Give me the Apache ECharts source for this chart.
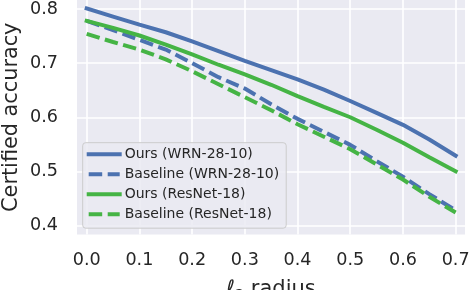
<!DOCTYPE html>
<html>
<head>
<meta charset="utf-8">
<script src="https://cdn.jsdelivr.net/npm/echarts@6/dist/echarts.min.js"></script>
<style>html,body{margin:0;padding:0;background:#fff;}#c{width:470px;height:290px;}</style>
</head>
<body>
<div id="c"></div>
<script>
// radius values (x)
const radius = [0.0, 0.05, 0.1, 0.15, 0.2, 0.25, 0.3, 0.35, 0.4, 0.45, 0.5, 0.55, 0.6, 0.65, 0.7];
// certified accuracy for each series
const oursWRN      = [0.801, 0.786, 0.771, 0.757, 0.740, 0.722, 0.704, 0.687, 0.670, 0.651, 0.630, 0.608, 0.586, 0.559, 0.529];
const baselineWRN  = [0.778, 0.761, 0.743, 0.725, 0.700, 0.674, 0.653, 0.624, 0.597, 0.573, 0.549, 0.519, 0.490, 0.458, 0.428];
const oursRes      = [0.778, 0.765, 0.751, 0.734, 0.716, 0.697, 0.679, 0.660, 0.639, 0.619, 0.600, 0.577, 0.553, 0.526, 0.500];
const baselineRes  = [0.754, 0.739, 0.725, 0.707, 0.685, 0.661, 0.637, 0.613, 0.587, 0.564, 0.541, 0.513, 0.485, 0.453, 0.424];
const seriesNames = ['Ours (WRN-28-10)', 'Baseline (WRN-28-10)', 'Ours (ResNet-18)', 'Baseline (ResNet-18)'];
const xTicks = [0.0, 0.1, 0.2, 0.3, 0.4, 0.5, 0.6, 0.7];
const yTicks = [0.4, 0.5, 0.6, 0.7, 0.8];

const BLUE = '#4C72B0', GREEN = '#45b445';
const DASH = [13.5, 5.5];
function pairs(ys){ return radius.map((r,i)=>[r, ys[i]]); }
function mk(name, ys, color, dashed){
  return {
    name: name, type: 'line', data: pairs(ys), symbol: 'none', showSymbol: false,
    lineStyle: {color: color, width: 4, type: dashed ? DASH : 'solid', cap: dashed ? 'butt' : 'square'},
    itemStyle: {color: color}, animation: false
  };
}
const chart = echarts.init(document.getElementById('c'), null, {renderer: 'canvas'});
const textColor = '#262626';
chart.setOption({
  animation: false,
  backgroundColor: '#ffffff',
  grid: {left: 77, right: 5, top: 0, bottom: 55.5, outerBoundsMode: 'none', containLabel: false,
    show: true, backgroundColor: '#EAEAF2', borderWidth: 0},
  xAxis: {
    type: 'value', min: -0.0184, max: 0.7177,
    axisLine: {show: false}, axisTick: {show: false, customValues: xTicks},
    axisLabel: {customValues: xTicks, formatter: v => v.toFixed(1), color: textColor, fontSize: 17.6,
      fontFamily: 'DejaVu Sans', margin: 17},
    splitLine: {show: true, customValues: xTicks, lineStyle: {color: '#ffffff', width: 1.6}},
    name: '{l|ℓ}{s|2} radius', nameLocation: 'middle', nameGap: 43, nameMoveOverlap: false,
    nameTextStyle: {color: textColor, fontSize: 21, fontFamily: 'DejaVu Sans',
      rich: {l: {fontSize: 21, fontStyle: 'italic', fontFamily: 'DejaVu Sans', color: textColor},
             s: {fontSize: 14.5, fontFamily: 'DejaVu Sans', color: textColor, padding: [10, 0, 0, 0]}}}
  },
  yAxis: {
    type: 'value', min: 0.3834, max: 0.8166,
    axisLine: {show: false}, axisTick: {show: false, customValues: yTicks},
    axisLabel: {customValues: yTicks, formatter: v => v.toFixed(1), color: textColor, fontSize: 17.6,
      fontFamily: 'DejaVu Sans', margin: 19},
    splitLine: {show: true, customValues: yTicks, lineStyle: {color: '#ffffff', width: 1.6}},
    name: 'Certified accuracy', nameLocation: 'middle', nameGap: 54.5, nameMoveOverlap: false,
    nameTextStyle: {color: textColor, fontSize: 20.8, fontFamily: 'DejaVu Sans'}
  },
  legend: {
    orient: 'vertical', left: 82.7, top: 142.7,
    data: seriesNames,
    itemWidth: 31, itemHeight: 14, itemGap: 6, itemTextGap: 10.6,
    padding: [4.5, 7, 7, 4],
    itemStyle: {color: 'rgba(0,0,0,0)', borderColor: 'rgba(0,0,0,0)', borderWidth: 0, opacity: 0},
    lineStyle: {width: 4},
    backgroundColor: 'rgba(234,234,242,0.85)', borderColor: '#cccccc', borderWidth: 1, borderRadius: 3,
    textStyle: {color: textColor, fontSize: 14, fontFamily: 'DejaVu Sans'}
  },
  series: [
    mk(seriesNames[0], oursWRN, BLUE, false),
    mk(seriesNames[1], baselineWRN, BLUE, true),
    mk(seriesNames[2], oursRes, GREEN, false),
    mk(seriesNames[3], baselineRes, GREEN, true)
  ]
});
</script>
</body>
</html>
